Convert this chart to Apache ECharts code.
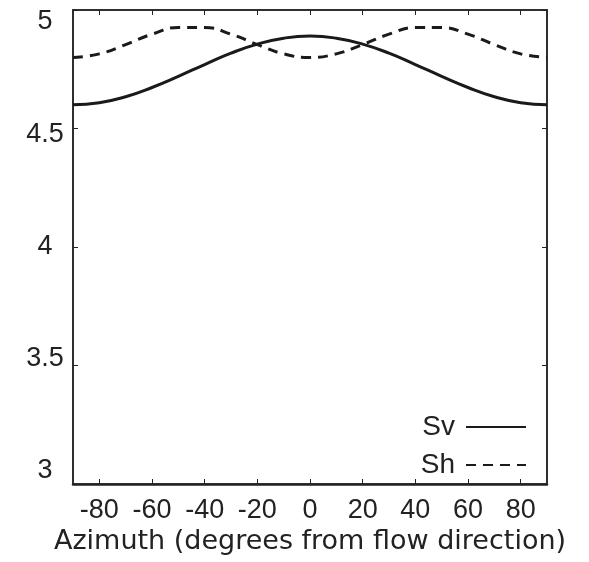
<!DOCTYPE html>
<html>
<head>
<meta charset="utf-8">
<script src="https://cdn.jsdelivr.net/npm/echarts@6/dist/echarts.min.js"></script>
<style>
html,body{margin:0;padding:0;background:#fff;}
#chart{width:589px;height:562px;}
</style>
</head>
<body>
<div id="chart"></div>
<script>
// Data
var azimuth = [-90, -80, -70, -60, -50, -40, -30, -20, -10, 0, 10, 20, 30, 40, 50, 60, 70, 80, 90];
var sv = [4.600, 4.609, 4.634, 4.673, 4.720, 4.770, 4.818, 4.856, 4.881, 4.890, 4.881, 4.856, 4.818, 4.770, 4.720, 4.673, 4.634, 4.609, 4.600];
var sh = [4.800, 4.815, 4.854, 4.898, 4.926, 4.926, 4.898, 4.854, 4.815, 4.800, 4.815, 4.854, 4.898, 4.926, 4.926, 4.898, 4.854, 4.815, 4.800];
var xTicks = [-80, -60, -40, -20, 0, 20, 40, 60, 80];
var yTicks = [3, 3.5, 4, 4.5, 5];
var seriesNames = ['Sv', 'Sh'];
var xTitle = 'Azimuth (degrees from flow direction)';

function pairs(xs, ys) { return xs.map(function (x, i) { return [x, ys[i]]; }); }

var FONT = 'Liberation Sans';
var INK = '#222';

var chart = echarts.init(document.getElementById('chart'));
chart.setOption({
  animation: false,
  backgroundColor: '#fff',
  grid: { left: 73, right: 42, top: 10, bottom: 78, show: true, borderColor: INK, borderWidth: 1.5 },
  legend: {
    data: seriesNames,
    orient: 'vertical',
    align: 'right',
    right: 57,
    top: 408,
    itemWidth: 60,
    itemHeight: 14,
    itemGap: 10,
    itemStyle: { opacity: 0 },
    textStyle: { fontFamily: FONT, fontSize: 28, color: INK, padding: [0, 6, 0, 0] }
  },
  xAxis: [{
    type: 'value', min: -90, max: 90, position: 'bottom',
    name: xTitle, nameLocation: 'middle', nameGap: 42,
    nameTextStyle: { fontFamily: 'DejaVu Sans', fontSize: 27, color: INK },
    axisLine: { show: true, onZero: false, lineStyle: { color: INK, width: 2.5 } },
    axisTick: { show: true, inside: true, length: 5, customValues: xTicks, lineStyle: { color: INK, width: 1 } },
    axisLabel: { show: true, customValues: xTicks, margin: 13, fontFamily: FONT, fontSize: 27, color: INK },
    splitLine: { show: false }
  }, {
    type: 'value', min: -90, max: 90, position: 'top',
    axisLine: { show: true, onZero: false, lineStyle: { color: INK, width: 1.5 } },
    axisTick: { show: true, inside: true, length: 5, customValues: xTicks, lineStyle: { color: INK, width: 1 } },
    axisLabel: { show: false },
    splitLine: { show: false }
  }],
  yAxis: [{
    type: 'value', min: 3, max: 5, interval: 0.5, position: 'left',
    axisLine: { show: true, onZero: false, lineStyle: { color: INK, width: 1.5 } },
    axisTick: { show: true, inside: true, length: 5, lineStyle: { color: INK, width: 1 } },
    axisLabel: { show: false },
    splitLine: { show: false }
  }, {
    type: 'value', min: 3, max: 5, interval: 0.5, position: 'right',
    axisLine: { show: true, onZero: false, lineStyle: { color: INK, width: 1.5 } },
    axisTick: { show: true, inside: true, length: 5, lineStyle: { color: INK, width: 1 } },
    axisLabel: { show: false },
    splitLine: { show: false }
  }, {
    // label-only axis: the reference's tick labels sit slightly inside the ends
    type: 'value', min: 2.942, max: 5.0535, position: 'left', offset: 0,
    axisLine: { show: false, onZero: false },
    axisTick: { show: false },
    axisLabel: { show: true, customValues: yTicks, align: 'center', margin: 28, fontFamily: FONT, fontSize: 27, color: INK },
    splitLine: { show: false }
  }],
  series: [{
    name: seriesNames[0], type: 'line', xAxisIndex: 0, yAxisIndex: 0,
    data: pairs(azimuth, sv), smooth: true, symbol: 'none',
    lineStyle: { color: '#1a1a1a', width: 3, type: 'solid' },
    itemStyle: { color: '#1a1a1a' }
  }, {
    name: seriesNames[1], type: 'line', xAxisIndex: 0, yAxisIndex: 0,
    data: pairs(azimuth, sh), smooth: true, symbol: 'none',
    lineStyle: { color: '#1a1a1a', width: 3, type: [10, 7] },
    itemStyle: { color: '#1a1a1a' }
  }]
});
</script>
</body>
</html>
